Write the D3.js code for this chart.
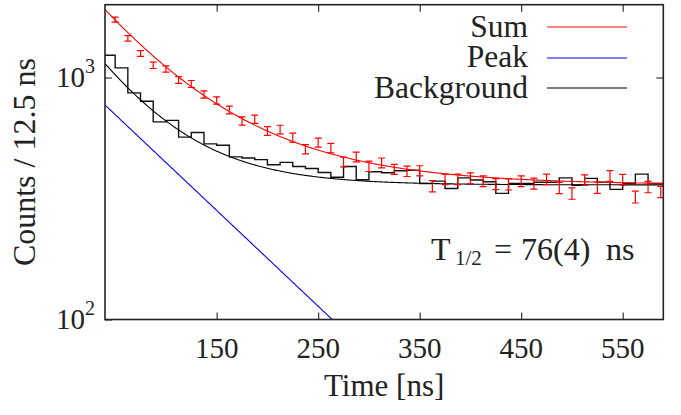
<!DOCTYPE html>
<html>
<head>
<meta charset="utf-8">
<script src="https://cdn.jsdelivr.net/npm/d3@7"></script>
<style>
  body { margin: 0; background: #fff; }
  #chart, #chart text, #chart tspan { font-family: "Liberation Serif", "Times New Roman", serif !important; }
</style>
</head>
<body>
<svg id="chart" width="681" height="415" style="font-family: 'Liberation Serif', serif"></svg>
<script>
// Measured decay curve: counts per 12.5 ns bin (red points with errors)
const pointTimes = [50, 62.5, 75, 87.5, 100, 112.5, 125, 137.5, 150, 162.5, 175, 187.5, 200, 212.5,
  225, 237.5, 250, 262.5, 275, 287.5, 300, 312.5, 325, 337.5, 350, 362.5, 375, 387.5, 400, 412.5,
  425, 437.5, 450, 462.5, 475, 487.5, 500, 512.5, 525, 537.5, 550, 562.5, 575, 587.5];
const pointCounts = [1736, 1453, 1257, 1124, 1085, 977, 941, 851, 804, 735, 662, 673, 602, 610,
  565, 506, 539, 511, 448, 470, 430, 444, 418, 410, 412, 356, 380, 380, 384, 373,
  363, 362, 373, 365, 380, 350, 332, 377, 351, 392, 379, 321, 353, 337];
const pointErrors = [42, 38, 35, 34, 33, 31, 31, 29, 28, 27, 26, 26, 25, 25,
  24, 22, 23, 23, 21, 22, 21, 21, 20, 20, 20, 19, 19, 19, 20, 19,
  19, 19, 19, 19, 19, 19, 18, 19, 19, 20, 19, 18, 19, 18];

// Background spectrum (black histogram), each value holds from its time to the next
const histTimes = [37.5, 50, 62.5, 75, 87.5, 100, 112.5, 125, 137.5, 150, 162.5, 175, 187.5, 200,
  212.5, 225, 237.5, 250, 262.5, 275, 287.5, 300, 312.5, 325, 337.5, 350, 362.5, 375, 387.5, 400,
  412.5, 425, 437.5, 450, 462.5, 475, 487.5, 500, 512.5, 525, 537.5, 550, 562.5, 575, 587.5, 600];
const histCounts = [1236, 1096, 864, 798, 656, 665, 567, 593, 532, 525, 470, 465, 458, 436,
  446, 429, 421, 405, 387, 429, 378, 408, 404, 412, 414, 365, 373, 348, 385, 377,
  371, 332, 365, 365, 369, 369, 385, 359, 383, 369, 345, 365, 399, 365, 365, 365];

// Fit parameters
const halfLife = 76;          // ns, peak component
const peakAmp = 770;          // peak counts at t0
const bgConst = 360;          // flat background level
const bgAmp = 782;            // fast background amplitude at t0
const bgTau = 63;             // ns, fast background time constant
const t0 = 40;

const xTicks = [150, 250, 350, 450, 550];
const yTicks = [100, 1000];
const legendNames = ["Sum", "Peak", "Background"];
const legendColors = ["#ff0000", "#0000ff", "#000000"];

const SERIF = "font-family: 'Liberation Serif', serif";

const svg = d3.select("#chart");
const x = d3.scaleLinear().domain([40, 590]).range([105, 663.3]);
const y = d3.scaleLog().domain([100, 2000]).range([319.5, 4.7]);

const peak = t => peakAmp * Math.pow(2, -(t - t0) / halfLife);
const background = t => bgConst + bgAmp * Math.exp(-(t - t0) / bgTau);
const sum = t => peak(t) + background(t);

svg.append("defs").append("clipPath").attr("id", "plotClip")
  .append("rect")
  .attr("x", x.range()[0]).attr("y", y.range()[1])
  .attr("width", x.range()[1] - x.range()[0])
  .attr("height", y.range()[0] - y.range()[1]);

const plot = svg.append("g").attr("clip-path", "url(#plotClip)");

// histogram
const histData = histTimes.map((t, i) => ({ t, v: histCounts[i] }));
plot.append("path")
  .datum(histData)
  .attr("fill", "none")
  .attr("stroke", "#111")
  .attr("stroke-width", 1.4)
  .attr("d", d3.line().x(d => x(d.t)).y(d => y(d.v)).curve(d3.curveStepAfter));

// fit curves
const tGrid = d3.range(40, 591, 1);
const fitLine = f => d3.line().x(t => x(t)).y(t => y(f(t)))(tGrid);
plot.append("path").attr("d", fitLine(background)).attr("fill", "none")
  .attr("stroke", legendColors[2]).attr("stroke-width", 1.1);
plot.append("path").attr("d", fitLine(peak)).attr("fill", "none")
  .attr("stroke", legendColors[1]).attr("stroke-width", 1.1);
plot.append("path").attr("d", fitLine(sum)).attr("fill", "none")
  .attr("stroke", legendColors[0]).attr("stroke-width", 1.1);

// data points with error bars
const pts = pointTimes.map((t, i) => ({ t, v: pointCounts[i], e: pointErrors[i] }));
const eb = plot.append("g").attr("stroke", "#ff0000").attr("stroke-width", 1.2)
  .selectAll("g").data(pts).join("g");
eb.append("line")
  .attr("x1", d => x(d.t)).attr("x2", d => x(d.t))
  .attr("y1", d => y(d.v - d.e)).attr("y2", d => y(d.v + d.e));
eb.append("line")
  .attr("x1", d => x(d.t) - 3.5).attr("x2", d => x(d.t) + 3.5)
  .attr("y1", d => y(d.v - d.e)).attr("y2", d => y(d.v - d.e));
eb.append("line")
  .attr("x1", d => x(d.t) - 3.5).attr("x2", d => x(d.t) + 3.5)
  .attr("y1", d => y(d.v + d.e)).attr("y2", d => y(d.v + d.e));

// axes (tick marks only; labels are drawn as plain text below)
const styleAxis = g => {
  g.attr("font-family", null).attr("font-size", null);
  g.select(".domain").remove();
  g.selectAll(".tick text").remove();
  g.selectAll(".tick line").attr("stroke", "#222").attr("stroke-width", 1.1);
};

svg.append("g")
  .attr("transform", `translate(0,${y.range()[0]})`)
  .call(d3.axisBottom(x).tickValues(xTicks).tickSizeInner(-7).tickSizeOuter(0))
  .call(styleAxis);

svg.append("g")
  .attr("transform", `translate(0,${y.range()[1]})`)
  .call(d3.axisTop(x).tickValues(xTicks).tickSizeInner(-7).tickSizeOuter(0))
  .call(styleAxis);

svg.append("g")
  .attr("transform", `translate(${x.range()[0]},0)`)
  .call(d3.axisLeft(y).tickValues(yTicks).tickSizeInner(-7).tickSizeOuter(0))
  .call(styleAxis);

svg.append("g")
  .attr("transform", `translate(${x.range()[1]},0)`)
  .call(d3.axisRight(y).tickValues([1000]).tickSizeInner(-7).tickSizeOuter(0))
  .call(styleAxis);

// frame
svg.append("rect")
  .attr("x", x.range()[0]).attr("y", y.range()[1])
  .attr("width", x.range()[1] - x.range()[0])
  .attr("height", y.range()[0] - y.range()[1])
  .attr("fill", "none").attr("stroke", "#222").attr("stroke-width", 1.6);

const addText = (s, attrs) => {
  const t = svg.append("text").attr("style", SERIF).attr("fill", "#222");
  Object.entries(attrs).forEach(([k, v]) => t.attr(k, v));
  return s == null ? t : t.text(s);
};

// tick labels
xTicks.forEach(v => addText(String(v), { x: x(v), y: 358, "text-anchor": "middle", "font-size": 29 }));
yTicks.forEach(v => {
  const t = addText(null, { x: x.range()[0] - 10, y: y(v) + 9, "text-anchor": "end", "font-size": 29 });
  t.append("tspan").attr("style", SERIF).text("10");
  t.append("tspan").attr("style", SERIF).attr("dy", -14).attr("font-size", 20)
    .text(String(Math.round(Math.log10(v))));
});

// axis titles
addText("Time [ns]", { x: (x.range()[0] + x.range()[1]) / 2, y: 396, "text-anchor": "middle", "font-size": 31 });
addText("Counts / 12.5 ns", {
  transform: `translate(35,${(y.range()[0] + y.range()[1]) / 2}) rotate(-90)`,
  "text-anchor": "middle", "font-size": 32
});

// legend
legendNames.forEach((name, i) => {
  const base = 36.5 + i * 30.5;
  addText(name, { x: 528, y: base, "text-anchor": "end", "font-size": 31.5 });
  svg.append("line")
    .attr("x1", 547).attr("x2", 627).attr("y1", Math.round(base - 9.5)).attr("y2", Math.round(base - 9.5))
    .attr("stroke", legendColors[i]).attr("stroke-width", 1.2);
});

// half-life annotation
[
  { s: "T", x: 431, y: 260, size: 32 },
  { s: "1/2", x: 455, y: 265, size: 21 },
  { s: "=", x: 494, y: 260, size: 32 },
  { s: "76(4)", x: 521, y: 260, size: 32 },
  { s: "ns", x: 606, y: 260, size: 32 }
].forEach(a => addText(a.s, { x: a.x, y: a.y, "font-size": a.size }));
</script>
</body>
</html>
